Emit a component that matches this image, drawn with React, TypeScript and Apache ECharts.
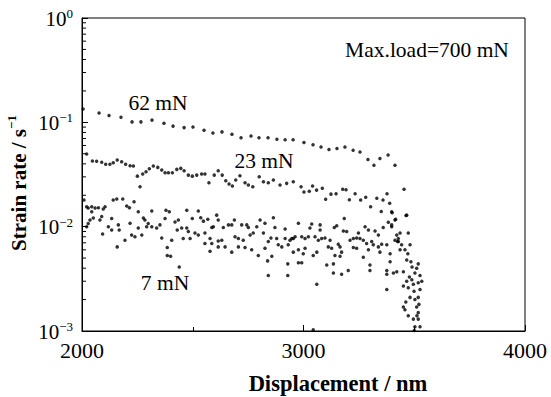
import React, { useEffect, useRef } from "react";
import * as echarts from "echarts";

const FONT = "Liberation Serif, Times New Roman, serif";

// x-axis ticks / y-axis decades
const xTicks = [2000, 3000, 4000];
const yDecades = [0.001, 0.01, 0.1, 1];
const yMinorTicks = [
  0.002, 0.003, 0.004, 0.005, 0.006, 0.007, 0.008, 0.009,
  0.02, 0.03, 0.04, 0.05, 0.06, 0.07, 0.08, 0.09,
  0.2, 0.3, 0.4, 0.5, 0.6, 0.7, 0.8, 0.9,
];

// 62 mN
const disp62 = [2005, 2077, 2122, 2176, 2226, 2266, 2316, 2370, 2411, 2461, 2501, 2551, 2591, 2632, 2677, 2718, 2763, 2799, 2840, 2880, 2917, 2953, 3002, 3043, 3079, 3115, 3151, 3187, 3224, 3255, 3291, 3318, 3345, 3382, 3413];
const rate62 = [0.134, 0.123, 0.116, 0.112, 0.101, 0.101, 0.105, 0.098, 0.092, 0.089, 0.09, 0.084, 0.079, 0.081, 0.077, 0.071, 0.074, 0.071, 0.071, 0.069, 0.068, 0.068, 0.064, 0.061, 0.058, 0.055, 0.056, 0.058, 0.054, 0.052, 0.044, 0.0387, 0.045, 0.0486, 0.0387];

// 23 mN
const disp23 = [2021, 2047, 2066, 2089, 2107, 2126, 2141, 2159, 2179, 2197, 2217, 2232, 2250, 2262, 2274, 2289, 2304, 2322, 2342, 2360, 2375, 2390, 2408, 2428, 2446, 2461, 2480, 2498, 2518, 2540, 2555, 2573, 2597, 2615, 2633, 2649, 2664, 2679, 2694, 2713, 2736, 2751, 2771, 2800, 2819, 2841, 2864, 2894, 2924, 2954, 2989, 3002, 3026, 3041, 3059, 3085, 3100, 3124, 3147, 3177, 3192, 3207, 3233, 3258, 3281, 3303, 3331, 3351, 3359, 3377, 3389, 3400, 3416, 3454, 3463];
const rate23 = [0.0497, 0.0425, 0.0423, 0.0414, 0.0396, 0.0396, 0.041, 0.0435, 0.0419, 0.0396, 0.0384, 0.0381, 0.0305, 0.0241, 0.0319, 0.0336, 0.0359, 0.0381, 0.037, 0.0349, 0.0329, 0.0329, 0.0329, 0.0354, 0.0362, 0.0344, 0.0312, 0.0305, 0.0312, 0.0319, 0.0319, 0.0264, 0.0312, 0.0344, 0.0312, 0.0275, 0.0256, 0.0245, 0.028, 0.0308, 0.0264, 0.0251, 0.0241, 0.0301, 0.0269, 0.0264, 0.028, 0.0251, 0.026, 0.0269, 0.0241, 0.0215, 0.0218, 0.0245, 0.0224, 0.0233, 0.0183, 0.0205, 0.0207, 0.0228, 0.0226, 0.0181, 0.0207, 0.018, 0.0191, 0.0155, 0.0187, 0.014, 0.018, 0.0207, 0.0168, 0.0136, 0.0118, 0.0228, 0.0128];

// 7 mN
const disp7 = [
  2009, 2021, 2028, 2044, 2044, 2059, 2074, 2096, 2104, 2141, 2157, 2184, 2202, 2214, 2235, 2254, 2277, 2315, 2379, 2394, 2435, 2473,
  2021, 2028, 2036, 2051, 2081, 2089, 2093, 2119, 2134, 2134, 2164, 2168, 2159, 2194, 2217, 2224, 2239, 2254, 2270, 2284, 2292, 2299, 2315, 2337, 2360, 2352, 2375, 2385, 2385, 2400, 2405, 2420, 2430, 2439, 2450, 2457, 2473,
  2525, 2498, 2536, 2548, 2568, 2608, 2615, 2593, 2586, 2638, 2661, 2688, 2676, 2721, 2744, 2751, 2789, 2804, 2826, 2864, 2871, 2917,
  2480, 2510, 2488, 2525, 2555, 2578, 2555, 2586, 2615, 2631, 2615, 2646, 2578, 2676, 2691, 2706, 2706, 2728, 2736, 2759, 2773, 2766, 2796, 2819, 2826, 2841, 2853, 2857, 2838, 2879, 2886, 2902, 2917, 2939, 2954, 2931, 2929, 2841, 2929,
  2977, 3037, 3029, 3075, 3075, 3150, 3139, 3184, 3180, 3195, 3248, 3278, 3293, 3323, 3338, 3360, 3398, 3421, 3428, 3383,
  2947, 2962, 2992, 3007, 3022, 3052, 3067, 3082, 3097, 3120, 3157, 3210, 3225, 3240, 3255, 3270, 3285, 3308, 3315, 3338, 3353, 3376, 3413,
  2954, 2977, 3007, 2999, 3044, 3060, 3112, 3127, 3165, 3172, 3142, 3165, 3225, 3240, 3293, 3270, 3345, 3391, 3391,
  2977, 2992, 3105, 3135, 3135, 3172, 3202, 3300, 3300, 3376, 3376, 3406, 3060,
  3398, 3466, 3413, 3398, 3436, 3473, 3428, 3425, 3443, 3436, 3458, 3481, 3471, 3466, 3421, 3451, 3376,
  3518, 3511, 3503, 3526, 3489, 3466, 3451, 3473, 3496, 3518, 3534, 3481, 3518, 3503, 3451, 3458, 3473, 3511, 3518, 3496, 3518, 3526, 3503, 3500,
  3490, 3478, 3526, 3499, 3462, 3512, 3521, 3485, 3044,
];
const rate7 = [
  0.018, 0.0155, 0.0151, 0.0155, 0.0139, 0.0151, 0.0152, 0.0148, 0.0155, 0.018, 0.0184, 0.0184, 0.0158, 0.0152, 0.0173, 0.0139, 0.0121, 0.0141, 0.0144, 0.0139, 0.0116, 0.0144,
  0.01, 0.0107, 0.0116, 0.0121, 0.0116, 0.0125, 0.0085, 0.01, 0.0093, 0.012, 0.0104, 0.0093, 0.0064, 0.0074, 0.0108, 0.0083, 0.008, 0.0097, 0.0083, 0.0116, 0.01, 0.0107, 0.01, 0.0097, 0.0078, 0.0104, 0.012, 0.0063, 0.0053, 0.0052, 0.0074, 0.0111, 0.0093, 0.0041, 0.0097, 0.0077, 0.0097,
  0.0141, 0.012, 0.0122, 0.0113, 0.0118, 0.0129, 0.0116, 0.01, 0.0098, 0.0098, 0.0104, 0.0116, 0.0104, 0.0104, 0.0104, 0.0098, 0.01, 0.0116, 0.0108, 0.0122, 0.0098, 0.0095,
  0.009, 0.0087, 0.0077, 0.0083, 0.0087, 0.0077, 0.0069, 0.0069, 0.0073, 0.0074, 0.0064, 0.0064, 0.0058, 0.0057, 0.008, 0.0077, 0.0064, 0.0074, 0.0063, 0.0083, 0.0087, 0.006, 0.0053, 0.0087, 0.0062, 0.0072, 0.0078, 0.0052, 0.0047, 0.0077, 0.0067, 0.0064, 0.0077, 0.0074, 0.0077, 0.0067, 0.0044, 0.0034, 0.0034,
  0.0108, 0.0106, 0.0097, 0.0104, 0.0093, 0.0102, 0.0098, 0.012, 0.0091, 0.009, 0.0087, 0.01, 0.0093, 0.0091, 0.0083, 0.0098, 0.01, 0.0083, 0.0072, 0.011,
  0.0077, 0.008, 0.008, 0.0077, 0.008, 0.008, 0.0074, 0.0077, 0.0078, 0.0074, 0.0068, 0.0074, 0.0077, 0.0078, 0.0077, 0.0074, 0.0069, 0.0072, 0.0067, 0.0064, 0.0068, 0.0067, 0.0074,
  0.0057, 0.006, 0.0062, 0.0055, 0.0053, 0.0057, 0.0064, 0.0062, 0.0064, 0.0057, 0.0053, 0.0052, 0.0063, 0.0062, 0.006, 0.0051, 0.0057, 0.0055, 0.0046,
  0.0045, 0.0045, 0.0043, 0.0044, 0.0036, 0.0035, 0.0038, 0.0043, 0.0038, 0.0038, 0.0035, 0.0036, 0.0028,
  0.0139, 0.0129, 0.0116, 0.0104, 0.0087, 0.0087, 0.0077, 0.0072, 0.0067, 0.006, 0.006, 0.0067, 0.0055, 0.0048, 0.0037, 0.0037, 0.0025,
  0.0044, 0.004, 0.0036, 0.0034, 0.0031, 0.003, 0.0027, 0.0026, 0.0028, 0.0029, 0.003, 0.0021, 0.0021, 0.002, 0.0017, 0.0016, 0.0014, 0.0017, 0.0015, 0.0013, 0.0013, 0.0011, 0.0011, 0.00101,
  0.0041, 0.0033, 0.0025, 0.0024, 0.0019, 0.0014, 0.0018, 0.0046, 0.00103,
];

const labels = [
  { text: "62 mN", x: 158, y: 103 },
  { text: "23 mN", x: 264, y: 161 },
  { text: "7 mN", x: 165, y: 283 },
  { text: "Max.load=700 mN", x: 427, y: 50 },
];

const zip = (a: number[], b: number[]) => a.map((v, i) => [v, b[i]]);

export default function App() {
  const ref = useRef<HTMLDivElement>(null);
  useEffect(() => {
    if (!ref.current) return;
    const chart = echarts.init(ref.current, undefined, { renderer: "svg" });
    const dotSeries = (name: string, data: number[][]) => ({
      name,
      type: "scatter",
      data,
      symbol: "circle",
      symbolSize: 3.5,
      itemStyle: { color: "#000" },
      emphasis: { disabled: true },
      z: 3,
    });
    const supLabel = (v: number) => {
      const e = Math.round(Math.log10(v));
      return "{b|10}{s|" + (e === 0 ? "0" : "\u2212" + -e) + "}";
    };
    chart.setOption({
      animation: false,
      backgroundColor: "#fff",
      textStyle: { fontFamily: FONT, color: "#000" },
      grid: {
        left: 82,
        right: 26,
        top: 18,
        bottom: 66,
        show: true,
        borderColor: "#000",
        borderWidth: 1,
        backgroundColor: "transparent",
        containLabel: false,
        outerBoundsMode: "none",
      },
      xAxis: {
        type: "value",
        min: xTicks[0],
        max: xTicks[xTicks.length - 1],
        interval: 1000,
        axisLine: { show: true, lineStyle: { color: "#000", width: 1 } },
        axisTick: { show: true, inside: true, length: 6, lineStyle: { color: "#000" } },
        minorTick: { show: true, splitNumber: 2, length: 4, lineStyle: { color: "#000" } },
        axisLabel: {
          fontSize: 22,
          color: "#000",
          margin: 8,
          fontFamily: FONT,
          formatter: (v: number) => String(v),
        },
        splitLine: { show: false },
      },
      yAxis: {
        type: "log",
        logBase: 10,
        min: yDecades[0],
        max: yDecades[yDecades.length - 1],
        axisLine: { show: true, lineStyle: { color: "#000", width: 1 } },
        axisTick: { show: true, inside: true, length: 6, lineStyle: { color: "#000" } },
        axisLabel: {
          margin: 9,
          color: "#000",
          formatter: supLabel,
          rich: {
            b: { fontSize: 21, fontFamily: FONT, color: "#000", lineHeight: 22, verticalAlign: "bottom" },
            s: { fontSize: 13, fontFamily: FONT, color: "#000", lineHeight: 22, verticalAlign: "top", padding: [0, 0, 8, 0] },
          },
        },
        splitLine: { show: false },
      },
      series: [
        dotSeries("62 mN", zip(disp62, rate62)),
        dotSeries("23 mN", zip(disp23, rate23)),
        dotSeries("7 mN", zip(disp7, rate7)),
        {
          type: "custom",
          name: "minor",
          data: yMinorTicks.map((v) => [xTicks[0], v]),
          silent: true,
          z: 4,
          renderItem: (_p: any, api: any) => {
            const pt = api.coord([api.value(0), api.value(1)]);
            return {
              type: "line",
              shape: { x1: pt[0], y1: pt[1], x2: pt[0] + 4, y2: pt[1] },
              style: { stroke: "#000", lineWidth: 1 },
            };
          },
        },
      ],
      graphic: [
        ...labels.map((l) => ({
          type: "text",
          x: l.x,
          y: l.y,
          style: {
            text: l.text,
            fontSize: 21.5,
            fontFamily: FONT,
            fill: "#000",
            align: "center",
            verticalAlign: "middle",
          },
        })),
        {
          type: "text",
          x: 338,
          y: 383,
          style: {
            text: "Displacement / nm",
            fontSize: 22.5,
            fontWeight: "bold",
            fontFamily: FONT,
            fill: "#000",
            align: "center",
            verticalAlign: "middle",
          },
        },
        {
          type: "text",
          x: 17,
          y: 183,
          rotation: Math.PI / 2,
          style: {
            text: "{m|Strain rate / s}{s|\u22121}",
            align: "center",
            verticalAlign: "middle",
            fill: "#000",
            rich: {
              m: { fontSize: 21, fontWeight: "bold", fontFamily: FONT, fill: "#000", lineHeight: 24, verticalAlign: "bottom" },
              s: { fontSize: 13, fontWeight: "bold", fontFamily: FONT, fill: "#000", lineHeight: 24, verticalAlign: "top" },
            },
          },
        },
      ],
    });
    return () => chart.dispose();
  }, []);
  return (
    <div
      ref={ref}
      style={{ position: "fixed", left: 0, top: 0, width: 551, height: 397, background: "#fff" }}
    />
  );
}
